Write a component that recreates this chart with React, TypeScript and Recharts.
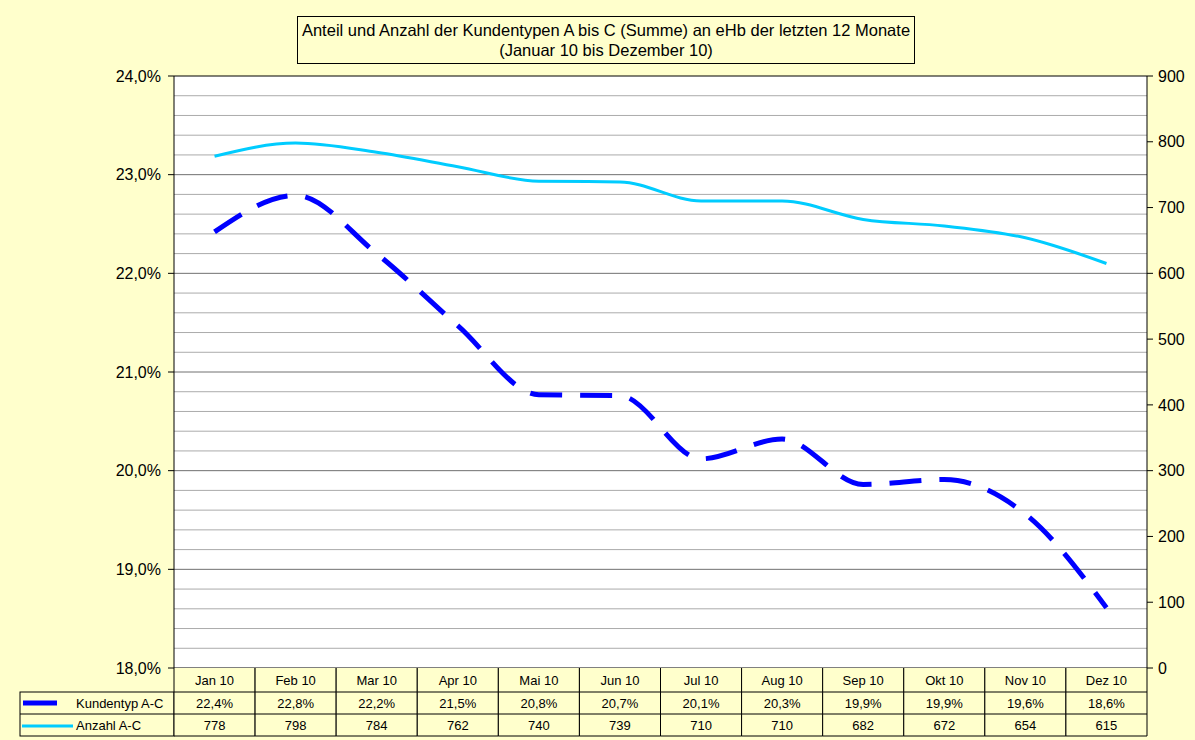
import { LineChart, Line, XAxis, YAxis, CartesianGrid, ReferenceLine } from 'recharts';

// Werte
const months = ['Jan 10', 'Feb 10', 'Mar 10', 'Apr 10', 'Mai 10', 'Jun 10', 'Jul 10', 'Aug 10', 'Sep 10', 'Okt 10', 'Nov 10', 'Dez 10'];
const kundentypPct = [22.42, 22.79, 22.2, 21.47, 20.77, 20.76, 20.12, 20.32, 19.86, 19.91, 19.56, 18.61];
const kundentypLabels = ['22,4%', '22,8%', '22,2%', '21,5%', '20,8%', '20,7%', '20,1%', '20,3%', '19,9%', '19,9%', '19,6%', '18,6%'];
const anzahl = [778, 798, 784, 762, 740, 739, 710, 710, 682, 672, 654, 615];

const leftTicks = [18, 19, 20, 21, 22, 23, 24];
const rightTicks = [0, 100, 200, 300, 400, 500, 600, 700, 800, 900];
const minorLines = Array.from({ length: 29 }, (_, i) => +(18.2 + i * 0.2).toFixed(1)).filter(v => v % 1 !== 0);
const majorLines = [19, 20, 21, 22, 23];

const data = months.map((m, i) => ({
  month: m,
  pct: kundentypPct[i],
  pctLabel: kundentypLabels[i],
  count: anzahl[i],
}));

const BG = '#FFFFCC';
const FONT = 'Liberation Sans, Arial, sans-serif';

const PLOT_LEFT = 174;
const PLOT_RIGHT = 1147;
const PLOT_TOP = 76;
const PLOT_BOTTOM = 668;
const COL_W = (PLOT_RIGHT - PLOT_LEFT) / months.length;
const ROW1 = 24;
const ROW2 = 22;
const ROW3 = 22;

// Tabellenspalte unter der Achse
const TableTick = (props: any) => {
  const { x, index } = props;
  const y0 = PLOT_BOTTOM;
  const d = data[index];
  const l = x - COL_W / 2;
  const r = x + COL_W / 2;
  const yEnd = y0 + ROW1 + ROW2 + ROW3;
  return (
    <g>
      {index === 0 && (
        <g>
          <rect x={20} y={y0 + ROW1} width={PLOT_LEFT - 20} height={ROW2 + ROW3} fill={BG} stroke="#000" />
          <line x1={20} x2={l} y1={y0 + ROW1 + ROW2} y2={y0 + ROW1 + ROW2} stroke="#000" />
          <line x1={23} x2={57} y1={y0 + ROW1 + ROW2 / 2} y2={y0 + ROW1 + ROW2 / 2} stroke="#0000FF" strokeWidth={5} />
          <line x1={22} x2={73} y1={y0 + ROW1 + ROW2 + ROW3 / 2 + 1} y2={y0 + ROW1 + ROW2 + ROW3 / 2 + 1} stroke="#00CCFF" strokeWidth={3} />
          <text x={76} y={y0 + ROW1 + ROW2 / 2 + 5} fontSize={13} fontFamily={FONT} fill="#000">Kundentyp A-C</text>
          <text x={76} y={y0 + ROW1 + ROW2 + ROW3 / 2 + 5} fontSize={13} fontFamily={FONT} fill="#000">Anzahl A-C</text>
        </g>
      )}
      <rect x={l} y={y0} width={COL_W} height={yEnd - y0} fill={BG} stroke="none" />
      <line x1={l} x2={l} y1={y0} y2={yEnd} stroke="#000" />
      <line x1={r} x2={r} y1={y0} y2={yEnd} stroke="#000" />
      <line x1={l} x2={r} y1={y0 + ROW1} y2={y0 + ROW1} stroke="#000" />
      <line x1={l} x2={r} y1={y0 + ROW1 + ROW2} y2={y0 + ROW1 + ROW2} stroke="#000" />
      <line x1={l} x2={r} y1={yEnd} y2={yEnd} stroke="#000" />
      <text x={x} y={y0 + ROW1 / 2 + 5} textAnchor="middle" fontSize={13} fontFamily={FONT} fill="#000">{d.month}</text>
      <text x={x} y={y0 + ROW1 + ROW2 / 2 + 5} textAnchor="middle" fontSize={13} fontFamily={FONT} fill="#000">{d.pctLabel}</text>
      <text x={x} y={y0 + ROW1 + ROW2 + ROW3 / 2 + 5} textAnchor="middle" fontSize={13} fontFamily={FONT} fill="#000">{d.count}</text>
    </g>
  );
};

export default function App() {
  return (
    <div style={{ position: 'absolute', left: 0, top: 0, width: 1195, height: 740, background: BG, fontFamily: FONT }}>
      <div
        style={{
          position: 'absolute',
          left: 297,
          top: 16,
          width: 618,
          height: 48,
          border: '1px solid #000',
          background: BG,
          textAlign: 'center',
          fontSize: 16.5,
          lineHeight: '20px',
          paddingTop: 3,
          boxSizing: 'border-box',
          whiteSpace: 'nowrap',
          zIndex: 2,
        }}
      >
        Anteil und Anzahl der Kundentypen A bis C (Summe) an eHb der letzten 12 Monate
        <br />
        (Januar 10 bis Dezember 10)
      </div>
      <LineChart
        width={1195}
        height={740}
        data={data}
        margin={{ top: PLOT_TOP, right: 0, bottom: 0, left: PLOT_LEFT - 70 }}
      >
        <CartesianGrid vertical={false} horizontal={false} fill="#fff" fillOpacity={1} />
        <XAxis
          dataKey="month"
          height={740 - PLOT_BOTTOM}
          padding={{ left: COL_W / 2, right: COL_W / 2 }}
          tickLine={false}
          axisLine={{ stroke: '#000' }}
          tick={<TableTick />}
          interval={0}
        />
        <YAxis
          yAxisId="left"
          orientation="left"
          width={70}
          domain={[18, 24]}
          ticks={leftTicks}
          type="number"
          tickFormatter={(v: number) => v.toFixed(1).replace('.', ',') + '%'}
          tick={{ fill: '#000', fontSize: 16, fontFamily: FONT }}
          tickSize={6}
          tickMargin={7}
          axisLine={{ stroke: '#000' }}
          tickLine={{ stroke: '#000' }}
        />
        <YAxis
          yAxisId="right"
          orientation="right"
          width={1195 - PLOT_RIGHT}
          domain={[0, 900]}
          ticks={rightTicks}
          type="number"
          tick={{ fill: '#000', fontSize: 16, fontFamily: FONT, textAnchor: 'start' }}
          tickSize={6}
          tickMargin={5}
          axisLine={{ stroke: '#000' }}
          tickLine={{ stroke: '#000' }}
        />
        {minorLines.map(v => (
          <ReferenceLine key={'m' + v} yAxisId="left" y={v} stroke="#ABABAB" />
        ))}
        {majorLines.map(v => (
          <ReferenceLine key={v} yAxisId="left" y={v} stroke="#707070" />
        ))}
        <ReferenceLine yAxisId="left" y={24} stroke="#000" />
        <Line
          yAxisId="right"
          dataKey="count"
          type="monotone"
          stroke="#00CCFF"
          strokeWidth={3}
          dot={false}
          isAnimationActive={false}
        />
        <Line
          yAxisId="left"
          dataKey="pct"
          type="monotone"
          stroke="#0000FF"
          strokeWidth={5}
          strokeDasharray="32 18"
          dot={false}
          isAnimationActive={false}
        />
      </LineChart>
    </div>
  );
}
